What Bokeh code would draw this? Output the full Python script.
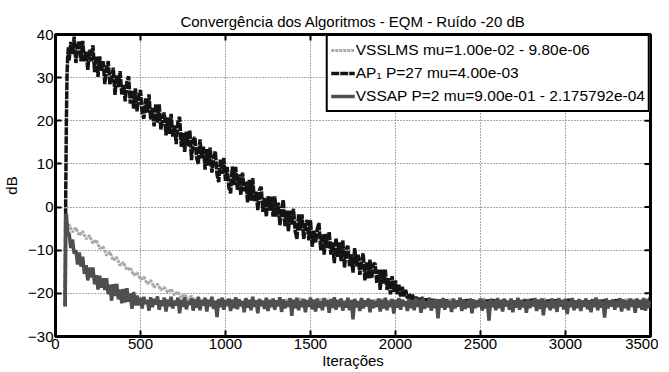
import math
from bokeh.plotting import figure
from bokeh.models import Range1d, FixedTicker, Legend, LegendItem
from bokeh.embed import file_html
from bokeh.resources import INLINE

# ---------------- data ----------------
title_text = "Convergência dos Algoritmos - EQM - Ruído -20 dB"
x_label = "Iterações"
y_label = "dB"
x_ticks = [0, 500, 1000, 1500, 2000, 2500, 3000, 3500]
y_ticks = [-30, -20, -10, 0, 10, 20, 30, 40]

series_names = [
    "VSSLMS mu=1.00e-02 - 9.80e-06",
    "AP\u2081 P=27 mu=4.00e-03",
    "VSSAP P=2 mu=9.00e-01 - 2.175792e-04",
]

early_iters = [57, 60, 64, 68, 72, 76]
iters_20 = early_iters + list(range(80, 3501, 20))   # VSSLMS samples
iters_10 = early_iters + list(range(80, 3501, 10))   # AP1 / VSSAP samples

vsslms_db = [
    -23, -5, -3.5, -4, -3.8, -4.5,
    -4, -5.8, -4.8, -6.6, -5.6, -7.4, -6.6, -8.4, -7.6, -9.6,
    -9.2, -11.2, -10.4, -12.4, -11.6, -13.6, -12.8, -14.6, -14, -15.8,
    -15.2, -16.8, -16.2, -17.8, -17, -18.6, -17.8, -19.2, -18.6, -19.8,
    -19, -20.4, -19.6, -21, -20.2, -21.4, -20.6, -21.8, -20.8, -22,
    -21, -22.4, -21.2, -22.6, -21.4, -22.8, -21.4, -22.6, -21.6, -22.8,
    -21.4, -22.6, -21.2, -22.8, -21.5, -22.7, -21.3, -22.9, -21.4, -22.6,
    -21.5, -22.8, -21.3, -22.6, -21.4, -22.9, -21.5, -22.7, -21.2, -22.8,
    -21.4, -22.6, -21.5, -22.8, -21.3, -22.7, -21.4, -22.9, -21.5, -22.6,
    -21.3, -22.8, -21.4, -22.7, -21.5, -22.6, -21.2, -22.9, -21.4, -22.8,
    -21.5, -22.7, -21.3, -22.6, -21.4, -22.8, -21.5, -22.9, -21.3, -22.7,
    -21.4, -22.6, -21.5, -22.8, -21.2, -22.7, -21.4, -22.9, -21.5, -22.6,
    -21.3, -22.8, -21.4, -22.7, -21.5, -22.6, -21.3, -22.9, -21.4, -22.8,
    -21.5, -22.7, -21.2, -22.6, -21.4, -22.8, -21.5, -22.9, -21.3, -22.7,
    -21.4, -22.6, -21.5, -22.8, -21.3, -22.7, -21.4, -22.9, -21.5, -22.6,
    -21.2, -22.8, -21.4, -22.7, -21.5, -22.6, -21.3, -22.9, -21.4, -22.8,
    -21.5, -22.7, -21.3, -22.6, -21.4, -22.8, -21.5, -22.9, -21.2, -22.7,
    -21.4, -22.6, -21.5, -22.8, -21.3, -22.7, -21.4, -22.9, -21.5, -22.6,
    -21.3, -22.8,
]

ap1_db = [
    -23, 2, 20, 31, 35, 37,
    34, 38.3, 35.5, 39.5, 33.4, 37.2, 38.5, 33.8, 38.5, 33.8, 36, 31.8, 36.5, 33.8, 37.5, 31.3, 35, 30.2, 34.9, 31.6,
    33.8, 28.5, 32.1, 33.8, 28.5, 29.6, 32.3, 26, 30.6, 27.8, 31.5, 26.1, 28.3, 24.5, 29.1, 30.3, 24, 27.1, 22.8, 27.5,
    22.2, 25.9, 27.1, 21.8, 20.5, 25.2, 21.9, 26.1, 20.3, 23, 18.7, 23.9, 19.6, 23.8, 18, 20.7, 21.9, 16.6, 20.8, 17,
    21.6, 16.3, 18.9, 14.6, 19.7, 20.9, 14, 17.2, 12.8, 17.5, 14.1, 17.8, 10.9, 15.6, 16.2, 11.4, 10, 15.7, 11.3, 14,
    8.7, 13.4, 9.6, 13.8, 8, 11.2, 12.9, 7.6, 5.8, 11, 7.7, 11.4, 6.1, 9.3, 4.5, 3.2, 9.4, 5.1, 9.3, 4,
    7.6, 2.8, 8, 3.7, 5.9, 1.1, 6.3, 1.5, 6.7, 1.4, 3.6, -0.7, 4, 4.7, -1.1, 2.1, -2.2, 2.5, -0.8, 2.4,
    -2.2, 2.5, -2.2, 1, -4.2, -0.5, 1.7, -4.5, -0.8, -5.6, -0.8, -4.1, -0.4, -5.6, -7.4, -1.7, -5.4, -1.7, -7.4, -4.2,
    -3, -7.7, -3, -9.2, -5.5, -8.2, -5, -3.7, -10, -6.2, -11, -6.2, -9.5, -5.7, -11, -8.2, -13, -7.2, -11.5, -8.2,
    -12.5, -7.7, -14, -9.7, -9, -13.7, -11, -15.2, -9.5, -13.7, -11, -15.7, -12.5, -10.7, -17, -12.7, -16.5, -12.2, -16.5, -13.3,
    -13, -17.7, -14.5, -19.2, -14.5, -17.7, -14.5, -19.2, -16.5, -20.2, -16, -19.7, -17, -20.2, -18, -20.7, -18.5, -20.7, -19.2, -21.2,
    -20, -21.5, -20.3, -21.8, -20.8, -22.2, -21, -21.9, -20.9, -22.4, -21.2, -22.3, -21.4, -22.6, -21.3, -22.4, -21.6, -22.8, -21.5, -22.6,
    -21.6, -22.9, -21.4, -22.7, -21.9, -23.1, -21.5, -22.6, -21.8, -23, -21.3, -22.8, -21.7, -22.5, -21.4, -23.2, -21.9, -22.6, -21.5, -22.9,
    -21.8, -22.7, -21.4, -23, -21.7, -22.5, -21.5, -22.9, -21.9, -22.6, -21.3, -23.1, -21.6, -22.8, -21.8, -22.5, -21.4, -22.9, -21.7, -22.7,
    -21.5, -23, -21.9, -22.6, -21.4, -22.8, -21.7, -23.2, -21.5, -22.7, -21.8, -22.5, -21.3, -22.9, -21.6, -22.7, -21.9, -23, -21.4, -22.6,
    -21.7, -22.8, -21.5, -22.6, -21.9, -23.1, -21.4, -22.7, -21.6, -22.9, -21.8, -22.5, -21.5, -23, -21.3, -22.8, -21.7, -22.6, -21.9, -22.9,
    -21.4, -22.7, -21.8, -23, -21.5, -22.6, -21.7, -22.9, -21.3, -22.8, -21.6, -23.1, -21.9, -22.5, -21.5, -22.8, -21.4, -22.7, -21.8, -23,
    -21.6, -22.6, -21.4, -22.9, -21.7, -22.5, -21.5, -23, -21.8, -22.7, -21.4, -22.8, -21.6, -22.6, -21.3, -22.9, -21.7, -22.5, -21.5, -22.8,
    -21.6, -22.4, -20.8,
]

vssap_db = [
    -23, -2, -1.5, -4, -5.5, -6.5,
    -6, -9.5, -7.5, -10.8, -10, -13.3, -10.5, -13.8, -11.5, -15.5, -13.5, -17, -14, -16.3, -14, -17.9, -15.8, -19.1, -15.9, -18.7,
    -16.5, -19.2, -16.5, -20.2, -18, -21.7, -17.9, -20.6, -17.8, -21.4, -19.1, -22.3, -19, -22.1, -18.8, -21.9, -20, -23.6, -19.7, -22.8,
    -20.5, -22.8, -21, -23.5, -20.8, -22.4, -21.5, -24, -20.9, -23.2, -21.3, -22.6, -20.7, -23.8, -21.6, -22.9, -21, -24.2, -21.4, -23,
    -20.8, -23.5, -21.7, -22.8, -21, -24.6, -21.5, -23.1, -20.9, -23.7, -21.8, -22.6, -21.2, -24, -21.4, -23.3, -20.9, -23.9, -21.6, -22.8,
    -21.1, -24.2, -21.5, -23, -20.8, -23.6, -21.7, -25.5, -21.3, -23.2, -21, -23.8, -21.6, -22.9, -21.2, -24.1, -21.5, -23.4, -20.9, -23.7,
    -21.4, -23, -21.8, -24.4, -21.1, -23.3, -21.5, -23.9, -20.8, -23.1, -21.6, -24.6, -21.3, -22.9, -21.7, -23.6, -21, -24.1, -21.5, -23.2,
    -21.2, -23.8, -21.6, -23, -20.9, -24.3, -21.4, -23.5, -21.8, -23.1, -21.1, -25.2, -21.5, -23.4, -21, -23.9, -21.7, -23.2, -21.3, -24.4,
    -21.6, -23.1, -21, -23.7, -21.5, -24.2, -21.2, -23.3, -21.8, -23.9, -21.1, -23, -21.6, -24.5, -21.3, -23.4, -20.9, -23.8, -21.5, -23.1,
    -21.2, -24, -21.7, -23.3, -21, -23.9, -21.5, -26, -21.3, -23.2, -21.8, -24.1, -21.1, -23.5, -21.6, -23, -21.2, -24.4, -21.5, -23.4,
    -21.8, -23.1, -21.2, -24.2, -21.5, -23.5, -21, -23.9, -21.7, -23.2, -21.3, -24.7, -21.6, -23.3, -21.1, -23.8, -21.5, -23, -21.8, -24.1,
    -21.3, -23.4, -21.6, -23.9, -21.1, -23.1, -21.5, -24.5, -21.2, -23.6, -21.8, -23.2, -21, -24, -21.5, -23.4, -21.3, -25.8, -21.6, -23.3,
    -21.1, -23.8, -21.5, -23.2, -21.8, -24.3, -21.2, -23.5, -21.6, -23, -21, -24.1, -21.4, -23.6, -21.7, -23.1, -21.2, -24.6, -21.5, -23.4,
    -21.6, -23.1, -21.2, -24, -21.5, -23.5, -21.8, -26.3, -21.3, -23.2, -21.6, -23.9, -21.1, -23.4, -21.5, -24.2, -21.3, -23, -21.7, -23.8,
    -21.2, -24.4, -21.6, -23.3, -21, -23.8, -21.5, -23.1, -21.8, -24.5, -21.3, -23.4, -21.6, -23, -21.1, -24.1, -21.5, -23.6, -21.2, -25.1,
    -21.5, -23.2, -21.8, -23.9, -21.2, -23.4, -21.6, -24.3, -21.1, -23, -21.5, -23.7, -21.3, -24.8, -21.7, -23.2, -21.1, -23.9, -21.6, -23.4,
    -21.3, -24.1, -21.6, -23.1, -21.2, -23.7, -21.8, -24.4, -21.4, -23.2, -21, -23.9, -21.5, -23.3, -21.7, -25.6, -21.2, -23.5, -21.6, -23,
    -21.4, -23.8, -21.7, -23.2, -21.1, -24.2, -21.5, -23.4, -21.8, -23.9, -21.2, -23.1, -21.6, -24.5, -21.3, -23.3, -21.7, -23.8, -21.1, -24,
    -21.5, -23.4, -21.8,
]

# ---------------- figure ----------------
FONT = "Liberation Sans"

x_lo, x_hi = x_ticks[0], x_ticks[-1]
y_lo, y_hi = y_ticks[0], y_ticks[-1]

p = figure(
    width=658, height=372,
    x_range=Range1d(x_lo, x_hi), y_range=Range1d(y_lo, y_hi),
    output_backend="svg", toolbar_location=None,
    min_border_left=52, min_border_right=8, min_border_top=34, min_border_bottom=36,
    background_fill_color="white", border_fill_color="white",
)
p.title.text = title_text
p.title.align = "center"
p.title.text_font = FONT
p.title.text_font_size = "15px"
p.title.text_font_style = "normal"
p.title.text_color = "black"
p.title.standoff = 10

p.outline_line_color = "black"
p.outline_line_width = 3
p.outline_line_alpha = 1.0

for ax, ticks in ((p.xaxis[0], x_ticks), (p.yaxis[0], y_ticks)):
    ax.ticker = FixedTicker(ticks=ticks)
    ax.axis_line_color = None
    ax.major_tick_in = 6
    ax.major_tick_out = 0
    ax.minor_tick_in = 0
    ax.minor_tick_out = 0
    ax.major_tick_line_color = "black"
    ax.major_tick_line_width = 2
    ax.major_label_text_color = "black"
    ax.major_label_text_font = FONT
    ax.major_label_text_font_size = "15px"
    ax.axis_label_text_font = FONT
    ax.axis_label_text_font_size = "15px"
    ax.axis_label_text_font_style = "normal"
    ax.axis_label_text_color = "black"

xax = p.xaxis[0]
yax = p.yaxis[0]
xax.major_label_standoff = 2
xax.axis_label = x_label
xax.axis_label_standoff = 0
yax.major_label_standoff = 2
yax.axis_label = y_label
yax.axis_label_standoff = 5

# inward ticks on the top and right frame edges (MATLAB box style)
p.ray(x=x_ticks, y=[y_hi] * len(x_ticks), length=6, length_units="screen",
      angle=-math.pi / 2, line_color="black", line_width=2)
p.ray(x=[x_hi] * len(y_ticks), y=y_ticks, length=6, length_units="screen",
      angle=math.pi, line_color="black", line_width=2)

for g, t in ((p.xgrid[0], x_ticks), (p.ygrid[0], y_ticks)):
    g.ticker = FixedTicker(ticks=t)
    g.grid_line_color = "#555555"
    g.grid_line_width = 1
    g.grid_line_dash = "1 2"

r1 = p.line(iters_20, vsslms_db, line_color="#a8a8a8", line_width=3, line_dash="3 1")
r2 = p.line(iters_10, ap1_db, line_color="#141414", line_width=3.5, line_dash="8 1")
r3 = p.line(iters_10, vssap_db, line_color="#4f4f4f", line_width=3.5)

legend = Legend(
    items=[
        LegendItem(label=series_names[0], renderers=[r1]),
        LegendItem(label=series_names[1], renderers=[r2]),
        LegendItem(label=series_names[2], renderers=[r3]),
    ],
    location="top_right",
    margin=0, padding=3, spacing=1,
    label_text_font=FONT, label_text_font_size="15.5px", label_text_color="black",
    glyph_width=24, glyph_height=22, label_height=22, label_standoff=1,
    border_line_color="black", border_line_width=2, border_line_alpha=1.0,
    background_fill_color="white", background_fill_alpha=1.0,
)
p.add_layout(legend)

open("out.html", "w").write(file_html(p, INLINE))
